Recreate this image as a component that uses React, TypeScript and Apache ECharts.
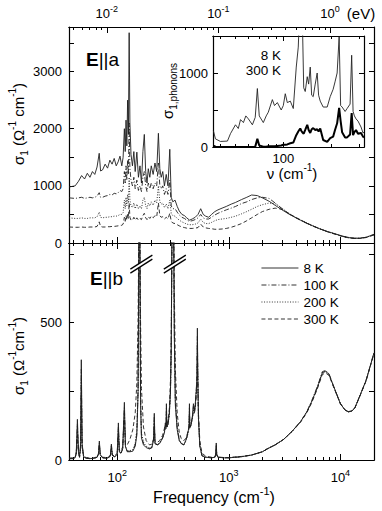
import React, { useEffect, useRef } from 'react';
import * as echarts from 'echarts';

const FONT = '"Liberation Sans", Arial, Helvetica, sans-serif';

// ---------- axes ----------
const FREQ_MIN = 37;
const FREQ_MAX = 20000;
const CM_PER_EV = 8065.54;
const X_MAJOR = [100, 1000, 10000];
const X_MINOR = [40, 50, 60, 70, 80, 90, 200, 300, 400, 500, 600, 700, 800, 900, 2000, 3000, 4000, 5000, 6000, 7000, 8000, 9000];
const EV_MAJOR = [0.01, 0.1, 1];
const EV_MINOR = [0.005, 0.006, 0.007, 0.008, 0.009, 0.02, 0.03, 0.04, 0.05, 0.06, 0.07, 0.08, 0.09, 0.2, 0.3, 0.4, 0.5, 0.6, 0.7, 0.8, 0.9, 2];
const YA_MAX = 3780;
const YA_TICKS = [0, 500, 1000, 1500, 2000, 2500, 3000, 3500];
const YA_LABELS = [0, 1000, 2000, 3000];
const YB_MAX = 790;
const YB_TICKS = [0, 250, 500, 750];
const YB_LABELS = [0, 500];
const INSET_MIN = 36;
const INSET_MAX = 323;
const INSET_MAJOR = [100];
const INSET_MINOR = [40, 50, 60, 70, 80, 90, 200, 300];
const YI_MAX = 1500;
const YI_TICKS = [0, 500, 1000, 1500];
const YI_LABELS = [0, 1000];

const TEMPS = ['8 K', '100 K', '200 K', '300 K'];

// ---------- E||a ----------
const freqA = [37, 42, 45, 48, 51, 54, 57, 60, 63, 66, 69, 71, 74, 78, 82, 86, 90, 94, 98, 102, 106, 110, 113, 116, 118, 120, 122, 124, 126, 128, 130, 133, 137, 141, 145, 150, 155, 160, 165, 170, 175, 180, 185, 190, 196, 202, 210, 218, 226, 234, 241, 248, 256, 265, 275, 285, 296, 305, 315, 330, 345, 360, 380, 400, 420, 445, 470, 500, 530, 560, 590, 620, 660, 700, 750, 800, 870, 950, 1050, 1150, 1300, 1450, 1600, 1800, 2000, 2300, 2600, 3000, 3500, 4000, 4700, 5500, 6500, 7700, 9000, 10500, 12000, 13500, 15000, 17000, 20000];
const sigA8K = [980, 1000, 1080, 1180, 1120, 1220, 1150, 1250, 1200, 1330,
  1570, 1260, 1280, 1380, 1310, 1450, 1380, 1480, 1350, 1420,
  1520, 1350, 1500, 2000, 1600, 2150, 1700, 2500, 1900, 3680,
  2100, 1550, 1350, 1600, 1250, 1590, 1150, 1350, 1050, 1600,
  1900, 1250, 1050, 1300, 1150, 1350, 1200, 1400, 1250, 1920,
  1300, 1150, 1250, 1000, 1200, 1000, 1640, 800, 720, 750,
  640, 560, 500, 480, 440, 400, 420, 450, 500, 600,
  500, 470, 450, 500, 550, 580, 610, 640, 680, 710,
  760, 800, 840, 830, 790, 730, 660, 580, 500, 440,
  370, 310, 250, 200, 160, 120, 95, 85, 85, 100,
  150];
const sigA100K = [790, 780, 790, 800, 780, 790, 800, 790, 800, 820,
  880, 800, 800, 820, 830, 850, 840, 870, 860, 880,
  920, 900, 950, 1250, 1050, 1350, 1100, 1450, 1200, 2100,
  1300, 1100, 1000, 1150, 950, 1100, 920, 1000, 900, 1150,
  1250, 1000, 900, 1050, 950, 1050, 950, 1050, 1000, 1400,
  1000, 950, 1000, 850, 950, 850, 1100, 650, 600, 600,
  540, 490, 450, 430, 400, 380, 390, 410, 440, 500,
  440, 420, 420, 450, 490, 520, 550, 580, 610, 640,
  690, 720, 760, 790, 800, 780, 700, 600, 505, 440,
  370, 305, 250, 195, 155, 115, 90, 80, 85, 100,
  150];
const sigA200K = [440, 430, 430, 440, 430, 430, 440, 440, 440, 460,
  540, 450, 440, 450, 450, 460, 460, 470, 470, 480,
  500, 500, 530, 750, 600, 800, 650, 850, 700, 1150,
  750, 650, 620, 700, 600, 680, 600, 650, 600, 750,
  800, 650, 600, 700, 650, 720, 660, 750, 700, 1000,
  720, 680, 700, 620, 680, 600, 750, 520, 480, 470,
  430, 400, 370, 350, 330, 320, 320, 330, 350, 420,
  360, 340, 340, 360, 390, 410, 420, 430, 450, 470,
  510, 550, 590, 640, 670, 700, 690, 610, 510, 445,
  375, 310, 250, 195, 155, 115, 90, 80, 82, 98,
  145];
const sigA300K = [280, 275, 275, 280, 275, 275, 280, 280, 280, 290,
  370, 290, 280, 280, 285, 285, 290, 290, 295, 300,
  310, 310, 330, 450, 380, 480, 400, 520, 430, 700,
  450, 400, 400, 450, 400, 440, 400, 430, 410, 480,
  520, 440, 410, 460, 430, 470, 440, 480, 460, 700,
  480, 450, 460, 420, 450, 420, 520, 380, 350, 340,
  320, 300, 280, 270, 260, 255, 255, 260, 270, 330,
  280, 265, 255, 250, 240, 240, 245, 255, 275, 300,
  340, 390, 440, 500, 550, 590, 610, 590, 510, 445,
  375, 310, 250, 195, 155, 112, 88, 78, 80, 95,
  140];

// ---------- E||b ----------
const freqB = [37, 40, 42, 43, 44, 45, 46, 47, 47.7, 48.5,
  50, 53, 57, 62, 66, 68, 69.2, 70.5, 74, 80,
  85, 87, 88.7, 90.5, 95, 100, 102.5, 104.5, 108, 112,
  116, 118.5, 123, 130, 138, 145, 150, 154, 156, 158,
  160, 162, 165, 172, 182, 195, 205, 212, 215, 218,
  228, 240, 255, 265, 270, 274, 276, 279, 285, 293,
  300, 305, 310, 315, 320, 325, 332, 345, 360, 375,
  395, 410, 425, 440, 444, 448, 460, 472, 482, 490,
  500, 510, 518, 523, 528, 535, 550, 575, 620, 700,
  750, 765, 772, 780, 800, 900, 1000, 1300, 1600, 2000,
  2200, 2600, 3100, 3700, 4400, 5000, 5500, 6200, 6900, 7400,
  7900, 8700, 10000, 11000, 11800, 12700, 13500, 15000, 17000, 20000];
const sigB8K = [5, 5, 8, 30, 148, 30, 10, 60, 365, 60,
  12, 6, 5, 6, 10, 25, 69, 20, 8, 6,
  10, 20, 58, 18, 12, 20, 135, 30, 25, 40,
  210, 50, 30, 30, 32, 50, 90, 250, 700, 1200,
  700, 200, 80, 55, 45, 40, 45, 80, 170, 60,
  55, 60, 80, 100, 135, 120, 205, 120, 130, 170,
  250, 400, 900, 1400, 900, 450, 200, 110, 70, 60,
  55, 70, 90, 120, 205, 120, 130, 160, 205, 180,
  200, 250, 300, 480, 300, 150, 50, 15, 10, 8,
  10, 25, 62, 20, 10, 8, 8, 12, 18, 30,
  40, 55, 75, 105, 140, 175, 210, 262, 318, 322,
  312, 268, 205, 182, 175, 178, 190, 235, 290, 390];
const sigB100K = [5, 5, 8, 25, 130, 28, 10, 50, 330, 55,
  12, 6, 5, 6, 10, 22, 62, 18, 8, 6,
  10, 18, 52, 17, 12, 20, 120, 30, 25, 40,
  190, 50, 32, 32, 35, 55, 100, 260, 680, 1150,
  700, 220, 90, 60, 48, 42, 46, 75, 155, 60,
  55, 60, 80, 100, 125, 115, 190, 120, 130, 165,
  245, 400, 880, 1350, 900, 470, 210, 115, 72, 60,
  55, 68, 88, 118, 190, 118, 128, 155, 195, 175,
  195, 245, 290, 450, 290, 150, 52, 16, 10, 8,
  10, 22, 56, 20, 10, 8, 8, 12, 18, 30,
  40, 55, 75, 105, 140, 175, 212, 266, 322, 326,
  314, 268, 205, 182, 176, 179, 191, 236, 291, 390];
const sigB200K = [6, 6, 9, 22, 110, 26, 11, 45, 290, 50,
  12, 7, 6, 7, 10, 20, 55, 18, 9, 7,
  10, 17, 46, 16, 12, 20, 105, 30, 25, 40,
  170, 50, 33, 34, 38, 60, 110, 270, 650, 1100,
  700, 240, 100, 65, 50, 44, 48, 72, 140, 62,
  57, 62, 82, 100, 118, 112, 175, 120, 130, 160,
  240, 400, 860, 1300, 900, 490, 220, 120, 75, 62,
  56, 66, 86, 115, 175, 116, 126, 150, 185, 170,
  190, 240, 280, 420, 280, 150, 55, 17, 11, 8,
  10, 20, 50, 19, 10, 8, 8, 12, 18, 30,
  40, 55, 75, 105, 140, 176, 212, 265, 320, 324,
  313, 268, 205, 182, 176, 179, 191, 236, 291, 390];
const sigB300K = [7, 8, 12, 22, 90, 28, 14, 40, 240, 45,
  15, 9, 7, 8, 12, 20, 48, 20, 10, 9,
  12, 17, 40, 18, 15, 25, 90, 35, 32, 48,
  150, 60, 55, 75, 110, 170, 280, 520, 800, 1000,
  800, 500, 260, 120, 70, 55, 58, 75, 120, 68,
  64, 70, 90, 115, 125, 120, 160, 130, 140, 185,
  290, 450, 800, 1150, 950, 620, 330, 170, 100, 78,
  70, 78, 95, 120, 160, 125, 135, 155, 175, 170,
  185, 230, 270, 380, 280, 170, 70, 25, 14, 10,
  11, 18, 42, 18, 11, 9, 9, 13, 18, 30,
  40, 55, 75, 104, 138, 172, 206, 258, 312, 316,
  308, 265, 205, 182, 176, 179, 190, 234, 288, 388];
const BREAK_FREQS = [158, 315];
const BREAK_SIGMA = 713;

// ---------- inset: phonon part ----------
const freqIn = [36.2, 37.3, 40.1, 44.4, 46.4, 49.9, 52, 53.7, 56, 58,
  60.2, 63.8, 66.5, 68.6, 70.5, 74.8, 78, 80.4, 85.3, 88,
  91.7, 97, 100, 102.9, 106, 110.7, 115.6, 120.7, 124.3, 126,
  127.9, 129.8, 131.7, 134.5, 137.5, 141.6, 144.5, 147.9, 151, 154.4,
  159, 163.6, 167, 171, 178.5, 189.2, 197.6, 206.3, 212, 218.6,
  225.1, 230, 235, 245.5, 252.7, 263.9, 270, 275.6, 281, 287.7,
  296.1, 309.3, 318.4, 323];
const sigIn8K = [220, 110, 75, 80, 180, 300, 250, 370, 330, 420,
  380, 300, 400, 790, 420, 330, 420, 470, 640, 560,
  600, 500, 560, 720, 600, 620, 520, 1080, 1350, 1700,
  2000, 1600, 1800, 800, 750, 950, 850, 1080, 700, 680,
  850, 1000, 700, 620, 540, 540, 680, 780, 880, 1000,
  1490, 560, 540, 480, 520, 580, 1240, 480, 420, 380,
  350, 270, 190, 200];
const sigIn300K = [20, 5, 0, 0, 0, 0, 0, 0, 0, 0,
  0, 0, 5, 110, 20, 5, 5, 10, 10, 10,
  15, 20, 30, 30, 35, 50, 60, 160, 210, 230,
  250, 220, 200, 180, 230, 300, 230, 190, 240, 255,
  230, 240, 210, 250, 95, 70, 120, 140, 230, 320,
  530, 350, 200, 130, 130, 170, 460, 160, 200, 230,
  180, 190, 140, 130];

// ---------- helpers ----------
const lg = Math.log10;
const LINE_STYLES: Record<string, any> = {
  '8 K': { type: 'solid', width: 0.9 },
  '100 K': { type: [5, 2, 1, 2], width: 0.9 },
  '200 K': { type: [1, 1.6], width: 0.9 },
  '300 K': { type: [4, 2.5], width: 0.9 },
};
const LINE_COLOR = '#1e1e1e';

const supRich = {
  b: { fontSize: 13, fontFamily: FONT, color: '#000', lineHeight: 18, verticalAlign: 'middle' },
  e: { fontSize: 9, fontFamily: FONT, color: '#000', lineHeight: 9, verticalAlign: 'top' },
};

function xAxisDef(gridIndex: number, position: string, min: number, max: number, ticks: number[], len: number, label?: any) {
  return {
    type: 'value', gridIndex, position, min, max,
    axisLine: { show: true, onZero: false, lineStyle: { color: '#000', width: 1.2 } },
    axisTick: { show: true, inside: true, length: len, customValues: ticks, lineStyle: { color: '#000', width: 1 } },
    axisLabel: label
      ? { show: true, customValues: label.values, formatter: label.formatter, margin: label.margin, color: '#000', fontFamily: FONT, fontSize: 13, rich: label.rich }
      : { show: false },
    splitLine: { show: false },
    minorTick: { show: false },
  };
}

function yAxisDef(gridIndex: number, position: string, max: number, ticks: number[], len: number, labels?: number[], margin = 7) {
  return {
    type: 'value', gridIndex, position, min: 0, max,
    axisLine: { show: true, onZero: false, lineStyle: { color: '#000', width: 1.2 } },
    axisTick: { show: true, inside: true, length: len, customValues: ticks, lineStyle: { color: '#000', width: 1 } },
    axisLabel: labels
      ? { show: true, customValues: labels, formatter: (v: number) => String(v), margin, color: '#000', fontFamily: FONT, fontSize: 13 }
      : { show: false },
    splitLine: { show: false },
    minorTick: { show: false },
  };
}

function lineSeries(name: string, freqs: number[], vals: number[], xi: number, yi: number) {
  return {
    type: 'line', name, xAxisIndex: xi, yAxisIndex: yi,
    data: freqs.map((f, i) => [lg(f), vals[i]]),
    symbol: 'none', silent: true, clip: true,
    lineStyle: { color: LINE_COLOR, ...LINE_STYLES[name] },
    itemStyle: { color: LINE_COLOR },
  };
}

const nameRich = (size: number) => ({
  n: { fontSize: size, fontFamily: FONT, color: '#000', lineHeight: size + 7, verticalAlign: 'middle' },
  s: { fontSize: Math.round(size * 0.66), fontFamily: FONT, color: '#000', lineHeight: 10, verticalAlign: 'bottom' },
  p: { fontSize: Math.round(size * 0.66), fontFamily: FONT, color: '#000', lineHeight: 10, verticalAlign: 'top' },
  bold: { fontSize: size, fontFamily: FONT, fontWeight: 'bold', color: '#000', lineHeight: size + 7, verticalAlign: 'middle' },
});

function textEl(text: string, x: number, y: number, size: number, align = 'center', rotation = 0) {
  return {
    type: 'text', x, y, rotation, silent: true, z: 20,
    style: {
      text, rich: nameRich(size), fontSize: size, fontFamily: FONT, fill: '#000',
      align, textAlign: align, verticalAlign: 'middle', textVerticalAlign: 'middle',
    },
  };
}

function buildOption() {
  const xMin = lg(FREQ_MIN);
  const xMax = lg(FREQ_MAX);
  const evMin = lg(FREQ_MIN / CM_PER_EV);
  const evMax = lg(FREQ_MAX / CM_PER_EV);
  const major = X_MAJOR.map(lg);
  const minor = X_MINOR.map(lg);
  const powLabel = (v: number) => `{b|10}{e|${Math.round(v)}}`;

  const xAxis = [
    xAxisDef(0, 'bottom', xMin, xMax, major, 6),
    xAxisDef(0, 'bottom', xMin, xMax, minor, 3),
    xAxisDef(0, 'top', evMin, evMax, EV_MAJOR.map(lg), 6, { values: EV_MAJOR.map(lg), formatter: powLabel, margin: 5, rich: supRich }),
    xAxisDef(0, 'top', evMin, evMax, EV_MINOR.map(lg), 3),
    xAxisDef(1, 'top', xMin, xMax, major, 6),
    xAxisDef(1, 'top', xMin, xMax, minor, 3),
    xAxisDef(1, 'bottom', xMin, xMax, major, 6, { values: major, formatter: powLabel, margin: 8, rich: supRich }),
    xAxisDef(1, 'bottom', xMin, xMax, minor, 3),
    xAxisDef(2, 'bottom', lg(INSET_MIN), lg(INSET_MAX), INSET_MAJOR.map(lg), 5, { values: INSET_MAJOR.map(lg), formatter: (v: number) => String(Math.round(Math.pow(10, v))), margin: 5 }),
    xAxisDef(2, 'bottom', lg(INSET_MIN), lg(INSET_MAX), INSET_MINOR.map(lg), 3),
    xAxisDef(2, 'top', lg(INSET_MIN), lg(INSET_MAX), INSET_MAJOR.map(lg), 5),
    xAxisDef(2, 'top', lg(INSET_MIN), lg(INSET_MAX), INSET_MINOR.map(lg), 3),
  ];
  const yAxis = [
    yAxisDef(0, 'left', YA_MAX, YA_TICKS, 5, YA_LABELS, 7),
    yAxisDef(0, 'right', YA_MAX, YA_TICKS, 5),
    yAxisDef(1, 'left', YB_MAX, YB_TICKS, 5, YB_LABELS, 7),
    yAxisDef(1, 'right', YB_MAX, YB_TICKS, 5),
    yAxisDef(2, 'left', YI_MAX, YI_TICKS, 5, YI_LABELS, 5),
    yAxisDef(2, 'right', YI_MAX, YI_TICKS, 5),
  ];

  const aVals = [sigA8K, sigA100K, sigA200K, sigA300K];
  const bVals = [sigB8K, sigB100K, sigB200K, sigB300K];
  const series: any[] = [];
  TEMPS.forEach((t, i) => series.push(lineSeries(t, freqB, bVals[i], 6, 2)));
  TEMPS.forEach((t, i) => series.push(lineSeries(t, freqA, aVals[i], 0, 0)));
  series.push({
    type: 'line', name: 'inset 8 K', xAxisIndex: 8, yAxisIndex: 4,
    data: freqIn.map((f, i) => [lg(f), sigIn8K[i]]),
    symbol: 'none', silent: true, clip: true,
    lineStyle: { color: '#222', width: 0.9 },
  });
  series.push({
    type: 'line', name: 'inset 300 K', xAxisIndex: 8, yAxisIndex: 4,
    data: freqIn.map((f, i) => [lg(f), sigIn300K[i]]),
    symbol: 'none', silent: true, clip: true,
    lineStyle: { color: '#000', width: 2 },
  });
  series.push({
    type: 'custom', name: 'breaks', xAxisIndex: 6, yAxisIndex: 2,
    data: BREAK_FREQS.map((f) => [lg(f), BREAK_SIGMA]),
    clip: false, silent: true, z: 10,
    renderItem: (_p: any, api: any) => {
      const c = api.coord([api.value(0), api.value(1)]);
      const x = c[0] + 2;
      const y = c[1];
      const seg = (dy: number) => ({
        type: 'line',
        shape: { x1: x - 11, y1: y + 7 + dy, x2: x + 11, y2: y - 7 + dy },
        style: { stroke: '#000', lineWidth: 1.3 },
      });
      return {
        type: 'group',
        children: [
          { type: 'polygon', shape: { points: [[x - 11, y + 5], [x + 11, y - 9], [x + 11, y - 5], [x - 11, y + 9]] }, style: { fill: '#fff' } },
          seg(-2), seg(2),
        ],
      };
    },
  });

  return {
    animation: false,
    backgroundColor: '#fff',
    textStyle: { fontFamily: FONT },
    grid: [
      { left: 69, top: 27, width: 305, height: 216 },
      { left: 69, top: 243, width: 305, height: 217 },
      { left: 213, top: 36, width: 151, height: 111 },
    ],
    xAxis, yAxis, series,
    legend: {
      show: true, orient: 'vertical', left: 256, top: 256,
      itemWidth: 37, itemHeight: 14, itemGap: 3, selectedMode: false,
      data: TEMPS,
      itemStyle: { opacity: 0 },
      lineStyle: { width: 0.9 },
      textStyle: { fontSize: 13.5, lineHeight: 14, fontFamily: FONT, color: '#000' },
    },
    graphic: [
      textEl('{n|σ}{s|1}{n| (Ω}{p|-1}{n| cm}{p|-1}{n|)}', 18, 124, 15, 'center', Math.PI / 2),
      textEl('{n|σ}{s|1}{n| (Ω}{p|-1}{n|cm}{p|-1}{n|)}', 18, 356, 15, 'center', Math.PI / 2),
      textEl('{n|σ}{s|1,phonons}', 167, 91, 15, 'center', Math.PI / 2),
      textEl('{n|Frequency (cm}{p|-1}{n|)}', 214, 497, 16),
      textEl('{n|ν (cm}{p|-1}{n|)}', 292, 173, 15),
      textEl('{n|(eV)}', 361, 13, 15),
      textEl('{bold|E}{n|||a}', 86, 59, 19, 'left'),
      textEl('{bold|E}{n|||b}', 90, 278, 19, 'left'),
      textEl('{n|8 K}', 281, 55, 13.5, 'right'),
      textEl('{n|300 K}', 281, 70, 13.5, 'right'),
    ],
  };
}

export default function App() {
  const ref = useRef<HTMLDivElement>(null);
  useEffect(() => {
    if (!ref.current) return;
    const chart = echarts.init(ref.current, null, { renderer: 'svg' });
    chart.setOption(buildOption() as any);
    return () => chart.dispose();
  }, []);
  return <div ref={ref} style={{ position: 'fixed', left: 0, top: 0, width: 382, height: 511, background: '#fff' }} />;
}
